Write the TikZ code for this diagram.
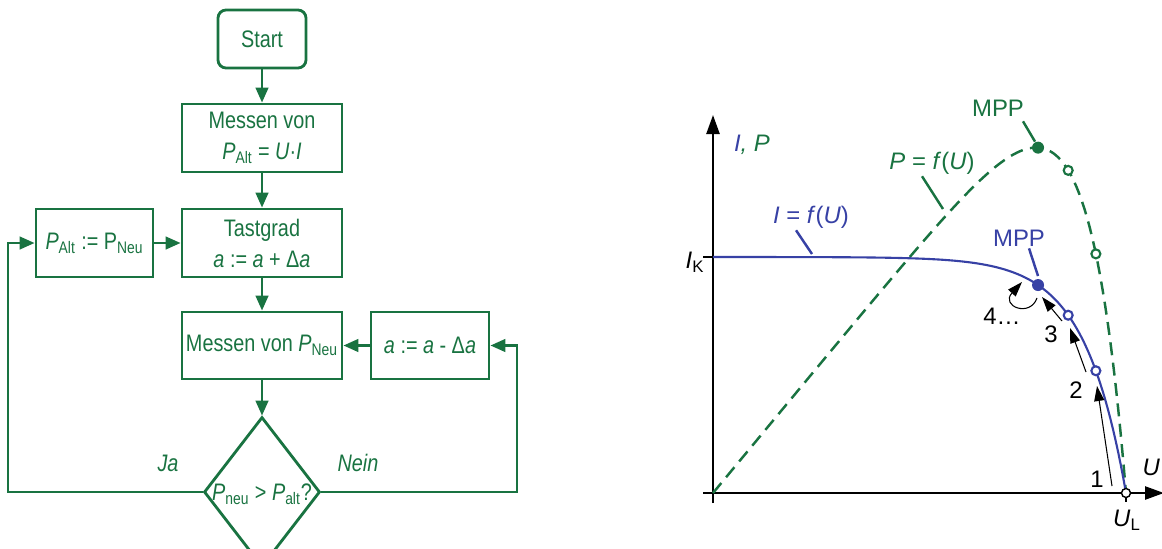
\documentclass[tikz,border=0pt]{standalone}
\usepackage{fontspec}
\setmainfont{Liberation Sans}
\newfontfamily\narrowsf[FakeStretch=0.83]{Liberation Sans}
\usepackage{xcolor}
\definecolor{mppgreen}{RGB}{25,115,65}
\definecolor{mppblue}{RGB}{55,65,165}
\usetikzlibrary{arrows.meta, shapes.geometric}

\newcommand{\lblsize}{\fontsize{13.6pt}{17.6pt}\selectfont}
% normalised current of the cell, u = U/U_L
\newcommand{\Icell}[1]{(1-exp((#1-1)/0.1))}

\begin{document}
\begin{tikzpicture}[x=0.02cm, y=-0.02cm,
  box/.style={draw=mppgreen, line width=1.6pt, text=mppgreen, font=\narrowsf\lblsize,
    align=center, inner sep=0pt, minimum height=1.36cm},
  flow/.style={draw=mppgreen, line width=1.6pt, -{Triangle[length=0.3cm, width=0.25cm]}},
  axis/.style={line width=1.4pt, -{Triangle[length=0.38cm, width=0.26cm]}},
  searcharrow/.style={line width=0.6pt, -{Triangle[length=0.3cm, width=0.2cm]}},
  leadg/.style={mppgreen, line width=1.4pt},
  leadb/.style={mppblue, line width=1.4pt},
  lbl/.style={font=\lblsize, inner sep=1pt}]

  \useasboundingbox (0,0) rectangle (1162,548);
  \clip (0,0) rectangle (1162,548);

  % Flowchart
  \node[box, rounded corners=0.16cm, minimum width=1.76cm, minimum height=1.16cm] (start) at (262,39) {Start};
  \node[box, minimum width=3.2cm] (mess1) at (262,138) {Messen von\\\textit{P}\textsubscript{Alt} = \textit{U}·\textit{I}};
  \node[box, minimum width=3.2cm] (tast) at (262,243) {Tastgrad\\\textit{a} := \textit{a} + Δ\textit{a}};
  \node[box, minimum width=2.34cm] (palt) at (94.5,243) {\textit{P}\textsubscript{Alt} := P\textsubscript{Neu}};
  \node[box, minimum width=3.2cm, minimum height=1.34cm] (mess2) at (262,345.5) {Messen von \textit{P}\textsubscript{Neu}};
  \node[box, minimum width=2.36cm, minimum height=1.34cm] (adec) at (430,345.5) {\textit{a} := \textit{a} - Δ\textit{a}};
  \node[box, shape=diamond, minimum width=2.32cm, minimum height=3.0cm] (dec) at (262,492) {};
  \node[text=mppgreen, font=\narrowsf\lblsize, inner sep=0pt] (dect) at (262,494) {\textit{P}\textsubscript{neu} > \textit{P}\textsubscript{alt}?};
  \node[text=mppgreen, font=\narrowsf\lblsize\itshape] (ja) at (168,463) {Ja};
  \node[text=mppgreen, font=\narrowsf\lblsize\itshape] (nein) at (358,463) {Nein};

  \coordinate (jacorner) at (8,492);
  \coordinate (neincorner) at (517,492);

  \draw[flow] (start) -- (mess1);
  \draw[flow] (mess1) -- (tast);
  \draw[flow] (tast) -- (mess2);
  \draw[flow] (mess2) -- (dec);
  \draw[flow] (palt) -- (tast);
  \draw[flow] (adec) -- (mess2);
  \draw[flow] (dec.west) -- (jacorner) |- (palt.west);
  \draw[flow] (dec.east) -- (neincorner) |- (adec.east);

  % Axes
  \draw[axis] (713,503) -- (713,115);
  \draw[axis] (703,493) -- (1164,493);
  \draw[line width=1.4pt] (703,257) -- (713,257);
  \draw[line width=1.4pt] (1126,493) -- (1126,502);
  \node[lbl] (ilbl) at (752,145) {\textcolor{mppblue}{\textit{I}}\textcolor{mppgreen}{\textit{, P}}};
  \node[lbl] (iklbl) at (695,262) {\textit{I}\textsubscript{K}};
  \node[lbl] (ullbl) at (1127,520) {\textit{U}\textsubscript{L}};
  \node[lbl, anchor=east] (ulbl) at (1162,467) {\textit{U}};

  % Power curve P = f(U)
  \draw[mppgreen, line width=1.4pt, dash pattern=on 0.26cm off 0.15cm]
    plot[domain=0:1, samples=160] ({713+413*\x}, {493-498*\x*\Icell{\x}});

  % Current curve I = f(U)
  \draw[mppblue, line width=1.2pt]
    plot[domain=0:1, samples=160] ({713+413*\x}, {493-236*\Icell{\x}});

  % Operating points
  \coordinate (pmpp) at ({713+413*0.787}, {493-498*0.787*\Icell{0.787}});
  \coordinate (impp) at ({713+413*0.787}, {493-236*\Icell{0.787}});
  \coordinate (p3) at ({713+413*0.86}, {493-498*0.86*\Icell{0.86}});
  \coordinate (i3) at ({713+413*0.86}, {493-236*\Icell{0.86}});
  \coordinate (p2) at ({713+413*0.927}, {493-498*0.927*\Icell{0.927}});
  \coordinate (i2) at ({713+413*0.927}, {493-236*\Icell{0.927}});
  \coordinate (ul) at (1126,493);

  \fill[mppgreen] (pmpp) circle (0.12cm);
  \fill[mppblue] (impp) circle (0.12cm);
  \draw[mppgreen, line width=1.2pt, fill=white] (p3) circle (0.09cm);
  \draw[mppgreen, line width=1.2pt, fill=white] (p2) circle (0.09cm);
  \draw[mppblue, line width=1.2pt, fill=white] (i3) circle (0.09cm);
  \draw[mppblue, line width=1.2pt, fill=white] (i2) circle (0.09cm);
  \draw[black, line width=0.8pt, fill=white] (ul) circle (0.09cm);

  % Labels with leader lines
  \node[lbl, text=mppgreen] (mppP) at (998,108) {MPP};
  \draw[leadg] ([xshift=-0.06cm, yshift=-0.06cm]mppP.south east) -- ([xshift=-0.06cm, yshift=0.12cm]pmpp);
  \node[lbl, text=mppblue] (mppI) at (1019,238) {MPP};
  \draw[leadb] ([xshift=0.2cm]mppI.south) -- ([yshift=0.18cm]impp);
  \node[lbl, text=mppgreen] (plbl) at (932,163) {\textit{P} = \textit{f}(\textit{U})};
  \coordinate (ptip) at (943,209);
  \draw[leadg] ([xshift=-0.2cm]plbl.south) -- (ptip);
  \node[lbl, text=mppblue] (curlbl) at (811,217) {\textit{I} = \textit{f}(\textit{U})};
  \coordinate (itip) at (812,254);
  \draw[leadb] ([xshift=-0.3cm]curlbl.south) -- (itip);

  % Search steps
  \coordinate (s1a) at (1112,486);
  \coordinate (s1b) at (1097,386);
  \coordinate (s2a) at (1086,372);
  \coordinate (s2b) at (1070,328);
  \coordinate (s3a) at (1062,321);
  \coordinate (s3b) at (1042,297);
  \draw[searcharrow] (s1a) -- (s1b);
  \draw[searcharrow] (s2a) -- (s2b);
  \draw[searcharrow] (s3a) -- (s3b);
  \draw[searcharrow] (1037,298) .. controls (1030,318) and (1000,306) .. (1022,282);
  \node[lbl] (n1) at (1097,479) {1};
  \node[lbl] (n2) at (1076,390) {2};
  \node[lbl] (n3) at (1051,334) {3};
  \node[lbl] (n4) at (1002,316) {4…};
\end{tikzpicture}
\end{document}
